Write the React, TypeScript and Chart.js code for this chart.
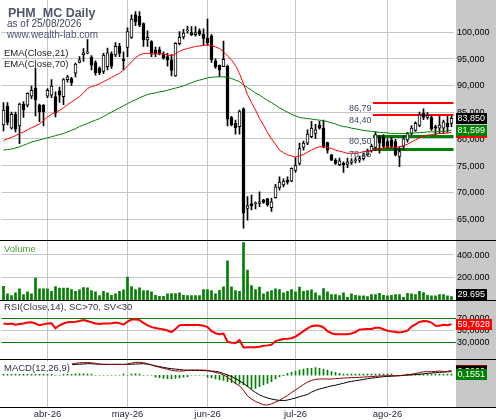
import React, { useEffect, useRef } from "react";
import { Chart, registerables } from "chart.js";

Chart.register(...registerables);

// ---------------- data ----------------
const OPEN = [
  82.6, 86.1, 82.0, 84.6, 82.4, 86.5, 86.3, 88.0, 89.5, 86.3,
  86.3, 88.0, 88.2, 87.9, 89.0, 87.9, 91.1, 91.3, 92.3, 94.3,
  95.7, 96.1, 95.3, 94.3, 93.2, 92.6, 93.5, 95.9, 95.7, 97.3,
  94.9, 97.1, 99.0, 103.2, 103.0, 101.6, 98.5, 98.2, 96.6, 96.7,
  95.9, 95.4, 94.8, 91.8, 97.8, 99.1, 100.2, 99.9, 99.5, 100.2,
  99.6, 98.8, 99.3, 94.6, 93.8, 93.5, 93.6, 84.0, 82.9, 82.3,
  85.6, 67.0, 67.9, 67.8, 67.9, 68.6, 68.8, 67.1, 69.0, 70.8,
  71.4, 72.3, 72.1, 74.1, 75.4, 78.4, 79.2, 80.4, 81.0, 82.6,
  82.0, 79.3, 77.0, 76.0, 75.1, 75.4, 75.2, 75.6, 75.9, 76.0,
  76.3, 77.0, 77.8, 78.4, 80.4, 80.4, 79.5, 79.8, 79.5, 76.7,
  78.6, 79.8, 81.0, 81.6, 82.5, 84.8, 84.0, 84.0, 82.3, 82.0,
  82.0, 82.9, 82.9,
];
const HIGH = [
  86.8, 86.8, 85.0, 85.0, 86.7, 87.0, 88.6, 89.9, 93.3, 86.5,
  86.4, 89.4, 91.1, 88.8, 89.7, 91.3, 91.9, 91.5, 94.2, 95.4,
  96.9, 98.6, 95.6, 94.6, 93.5, 96.0, 97.0, 96.3, 98.0, 97.9,
  96.3, 100.8, 103.2, 103.8, 103.8, 101.7, 100.2, 98.4, 97.2, 97.2,
  96.3, 96.0, 95.8, 98.0, 100.1, 100.5, 101.1, 101.0, 101.0, 100.6,
  100.6, 102.4, 99.5, 95.0, 93.8, 98.3, 93.8, 84.2, 83.5, 85.4,
  85.8, 69.2, 69.5, 68.2, 70.1, 68.7, 68.8, 68.9, 71.5, 72.9,
  72.5, 72.9, 74.6, 76.5, 79.2, 79.6, 81.7, 83.3, 82.7, 83.3,
  83.5, 79.4, 77.1, 76.3, 76.4, 75.7, 76.4, 76.3, 76.5, 76.8,
  77.3, 78.1, 79.0, 81.3, 80.6, 80.8, 80.0, 80.3, 79.9, 78.5,
  80.6, 81.2, 82.5, 83.2, 85.0, 85.6, 84.9, 84.3, 82.6, 84.2,
  83.5, 84.2, 84.2,
];
const LOW = [
  81.5, 82.6, 81.8, 81.3, 79.1, 84.0, 86.0, 87.5, 84.3, 83.2,
  82.4, 87.7, 87.7, 84.1, 86.8, 86.4, 90.6, 90.0, 91.6, 94.2,
  94.5, 95.9, 92.9, 91.9, 92.0, 92.2, 92.9, 93.2, 95.4, 95.4,
  92.9, 95.4, 98.8, 101.2, 101.0, 97.3, 97.3, 95.4, 95.4, 95.7,
  94.9, 93.6, 91.8, 91.7, 97.6, 98.7, 99.8, 99.3, 99.2, 99.3,
  97.6, 97.5, 94.3, 93.2, 91.7, 93.5, 82.4, 82.4, 80.9, 80.9,
  63.3, 64.8, 66.7, 66.9, 67.3, 67.9, 67.4, 66.4, 68.9, 70.4,
  71.0, 71.5, 72.0, 73.7, 75.1, 77.9, 78.9, 80.2, 80.1, 81.8,
  78.3, 77.3, 75.9, 75.2, 75.0, 73.7, 74.6, 75.2, 75.5, 75.6,
  76.0, 76.8, 77.5, 77.8, 77.3, 78.3, 78.2, 78.3, 76.8, 74.8,
  78.0, 79.4, 80.8, 81.4, 82.3, 83.6, 83.7, 81.6, 80.8, 81.0,
  81.0, 81.2, 82.3,
];
const CLOSE = [
  85.4, 83.1, 84.6, 81.8, 86.5, 85.4, 88.5, 89.1, 87.3, 85.1,
  85.1, 89.1, 89.9, 84.8, 88.2, 91.1, 91.6, 90.5, 94.0, 94.8,
  96.1, 96.3, 93.8, 92.4, 92.4, 95.7, 96.1, 93.6, 97.3, 96.0,
  94.6, 100.1, 102.4, 101.9, 101.3, 98.5, 99.0, 96.0, 96.0, 96.0,
  95.1, 94.8, 92.8, 97.9, 99.0, 99.8, 100.3, 99.5, 99.9, 99.6,
  98.8, 98.0, 94.8, 93.5, 92.9, 94.9, 83.7, 82.6, 82.1, 85.1,
  66.1, 67.5, 67.5, 67.9, 68.2, 68.1, 67.7, 68.2, 71.0, 71.9,
  72.1, 71.9, 74.5, 75.0, 78.2, 79.2, 80.9, 82.0, 81.7, 82.0,
  78.5, 77.9, 76.0, 75.4, 75.9, 75.1, 75.7, 75.9, 76.0, 76.3,
  77.0, 77.8, 78.6, 80.8, 79.2, 78.6, 78.6, 78.6, 77.0, 77.6,
  80.0, 81.0, 82.0, 82.9, 84.5, 84.0, 84.4, 81.8, 82.0, 82.6,
  83.2, 82.3, 83.85,
];
const EMA21 = [
  79.7, 80.0, 80.3, 80.6, 81.0, 81.3, 81.7, 82.1, 82.4, 82.8,
  83.4, 84.1, 84.6, 85.0, 85.3, 85.8, 86.4, 86.9, 87.4, 87.9,
  88.6, 89.4, 89.8, 90.0, 90.3, 90.7, 91.1, 91.5, 91.9, 92.3,
  92.9, 93.6, 94.4, 95.2, 95.7, 96.0, 96.0, 95.9, 95.9, 95.9,
  95.9, 95.7, 95.5, 95.9, 96.4, 96.7, 96.9, 97.1, 97.3, 97.4,
  97.5, 97.6, 97.5, 97.2, 96.9, 96.3, 95.5, 94.8, 93.7, 92.2,
  90.3, 88.3, 86.8, 85.4, 83.8, 82.6, 81.2, 80.0, 79.0, 77.9,
  77.4, 77.0, 76.8, 76.6, 76.8, 77.1, 77.5, 77.9, 78.3, 78.5,
  78.5, 78.4, 78.2, 77.9, 77.7, 77.5, 77.3, 77.3, 77.3, 77.4,
  77.6, 77.7, 77.8, 78.0, 78.1, 78.3, 78.4, 78.4, 78.4, 78.5,
  78.7, 79.0, 79.4, 79.8, 80.2, 80.5, 80.7, 80.8, 80.9, 81.0,
  81.0, 81.1, 81.2,
];
const EMA70 = [
  77.9, 78.0, 78.1, 78.3, 78.5, 78.8, 79.1, 79.4, 79.6, 79.8,
  80.0, 80.2, 80.4, 80.6, 80.8, 81.0, 81.3, 81.6, 81.9, 82.3,
  82.6, 82.9, 83.2, 83.5, 83.8, 84.2, 84.6, 85.0, 85.4, 85.8,
  86.2, 86.6, 87.0, 87.3, 87.7, 88.0, 88.3, 88.5, 88.6, 88.8,
  88.9, 89.1, 89.3, 89.5, 89.7, 89.9, 90.2, 90.5, 90.8, 91.0,
  91.2, 91.4, 91.5, 91.6, 91.6, 91.6, 91.5, 91.3, 91.0, 90.7,
  90.1, 89.6, 89.1, 88.6, 88.2, 87.7, 87.2, 86.8, 86.3, 85.8,
  85.4, 85.0, 84.6, 84.3, 84.0, 83.9, 83.8, 83.7, 83.6, 83.5,
  83.4, 83.2, 83.0, 82.8, 82.5, 82.3, 82.2, 82.0, 81.9, 81.7,
  81.6, 81.5, 81.4, 81.3, 81.2, 81.2, 81.1, 81.0, 81.0, 81.0,
  81.0, 81.0, 81.1, 81.1, 81.2, 81.2, 81.3, 81.3, 81.3, 81.4,
  81.4, 81.5, 81.599,
];
const VOLUME = [
  122000, 54000, 39000, 63000, 100000, 48000, 72000, 54000, 194000, 99000,
  100000, 100000, 78000, 120000, 105000, 105000, 105000, 93000, 78000, 90000,
  111000, 108000, 84000, 72000, 39000, 78000, 63000, 42000, 54000, 78000,
  90000, 203000, 120000, 93000, 108000, 84000, 84000, 72000, 42000, 33000,
  33000, 54000, 57000, 57000, 63000, 42000, 39000, 39000, 39000, 39000,
  93000, 93000, 84000, 54000, 87000, 117000, 347000, 117000, 84000, 78000,
  510000, 266000, 129000, 93000, 114000, 54000, 72000, 84000, 99000, 93000,
  63000, 78000, 93000, 72000, 114000, 78000, 84000, 90000, 63000, 39000,
  102000, 72000, 48000, 48000, 39000, 63000, 24000, 54000, 42000, 36000,
  36000, 30000, 48000, 48000, 60000, 42000, 36000, 42000, 48000, 48000,
  24000, 60000, 54000, 48000, 78000, 66000, 42000, 36000, 36000, 48000,
  48000, 36000, 29695,
];
const RSI = [
  61, 60, 61, 59, 60, 61, 62.5, 63, 61, 58,
  59.5, 61, 61.3, 53, 58, 61, 63, 63.5, 64, 65,
  66.5, 65, 63, 61, 60, 61, 61, 61.5, 62.5, 61.5,
  59, 64, 67.5, 68, 66.5, 62, 58, 55, 53.5, 52.5,
  51, 49.5, 47, 52, 58, 58.6, 58.6, 58.6, 58.6, 58.6,
  57.4, 55, 48.5, 45, 43.5, 44.3, 31, 29.5, 29, 33.9,
  21.5, 21.8, 21.8, 22, 22.8, 24.5, 25, 26, 32, 34,
  35.5, 36, 36.8, 39.5, 44, 48.5, 53, 56.5, 57.5, 57.2,
  54.5, 48.5, 45, 43.3, 43.3, 43.3, 43.3, 44.5, 47, 51,
  51.4, 52, 52, 54, 54.1, 51.5, 49.2, 48, 47, 46,
  47.5, 49.2, 56, 59.7, 63.5, 65.1, 64.5, 62.5, 57.4, 57.4,
  59, 58, 59.7628,
];
const MACD = [
  1.1, 1.1, 1.1, 1.05, 1.1, 1.15, 1.2, 1.3, 1.35, 1.3,
  1.3, 1.35, 1.4, 1.3, 1.3, 1.4, 1.48, 1.6, 1.72, 1.8,
  1.82, 1.84, 1.8, 1.72, 1.6, 1.57, 1.57, 1.55, 1.57, 1.57,
  1.55, 1.62, 1.75, 1.87, 1.87, 1.8, 1.68, 1.48, 1.3, 1.15,
  1.0, 0.85, 0.72, 0.62, 0.6, 0.62, 0.7, 0.75, 0.75, 0.75,
  0.75, 0.68, 0.55, 0.4, 0.25, 0.05, -0.3, -0.75, -1.2, -1.55,
  -2.2, -3.0, -3.45, -3.8, -4.05, -4.3, -4.32, -4.15, -3.9, -3.65,
  -3.3, -2.95, -2.5, -2.15, -1.75, -1.35, -1.0, -0.75, -0.6, -0.55,
  -0.55, -0.55, -0.55, -0.5, -0.46, -0.42, -0.38, -0.35, -0.33, -0.31,
  -0.27, -0.23, -0.2, -0.16, -0.12, -0.1, -0.08, -0.07, -0.07, -0.07,
  0.0, 0.06, 0.12, 0.25, 0.37, 0.5, 0.51, 0.51, 0.56, 0.61,
  0.53, 0.56, 0.68,
];
const SIGNAL = [
  1.0, 1.02, 1.04, 1.05, 1.06, 1.08, 1.1, 1.14, 1.18, 1.2,
  1.23, 1.26, 1.3, 1.3, 1.32, 1.36, 1.45, 1.52, 1.57, 1.6,
  1.63, 1.67, 1.66, 1.62, 1.6, 1.57, 1.57, 1.57, 1.57, 1.57,
  1.57, 1.57, 1.6, 1.62, 1.65, 1.67, 1.6, 1.5, 1.35, 1.24,
  1.14, 1.02, 0.95, 0.88, 0.82, 0.76, 0.73, 0.71, 0.7, 0.68,
  0.66, 0.65, 0.61, 0.55, 0.45, 0.25, 0.05, -0.2, -0.5, -0.82,
  -1.2, -1.6, -2.1, -2.5, -2.85, -3.1, -3.3, -3.45, -3.57, -3.65,
  -3.69, -3.6, -3.45, -3.3, -3.12, -2.95, -2.8, -2.45, -2.2, -2.0,
  -1.85, -1.7, -1.55, -1.45, -1.3, -1.17, -1.0, -0.9, -0.8, -0.7,
  -0.62, -0.5, -0.42, -0.35, -0.27, -0.22, -0.18, -0.15, -0.1, -0.07,
  -0.02, 0.02, 0.05, 0.1, 0.13, 0.2, 0.26, 0.32, 0.38, 0.42,
  0.45, 0.5, 0.52,
];
const HIST = [
  0.15, 0.17, 0.17, 0.15, 0.17, 0.17, 0.18, 0.2, 0.2, 0.17,
  0.15, 0.17, 0.17, 0, 0, 0.15, 0.17, 0.18, 0.2, 0.2,
  0.2, 0.18, 0.17, 0, 0, 0, 0, 0, 0, 0,
  0.15, 0, 0.17, 0.2, 0.18, 0, 0, 0, -0.3, -0.35,
  -0.45, -0.5, -0.5, -0.45, -0.4, -0.3, -0.2, 0, 0, 0,
  0, -0.3, -0.4, -0.55, -0.65, -0.75, -0.95, -1.1, -1.2, -1.3,
  -1.42, -1.66, -2.0, -1.9, -1.66, -1.42, -1.18, -0.94, -0.55, -0.22,
  -0.07, 0.27, 0.42, 0.61, 0.75, 0.9, 1.0, 1.0, 1.1, 1.0,
  0.9, 0.75, 0.51, 0.42, 0.27, 0.15, 0.15, 0.15, 0.15, 0.15,
  0.15, 0.15, 0.15, 0.17, 0.15, 0.15, 0.15, 0.15, 0, 0,
  0, 0.15, 0.15, 0.15, 0.17, 0.17, 0.16, 0.15, 0.15, 0.15,
  0.16, 0.17, 0.1551,
];

const CATEGORIES = CLOSE.map((_, i) => String(i));
const MONTH_LABELS = ["abr-26", "may-26", "jun-26", "jul-26", "ago-26"];
const MONTH_START = [11, 31, 51, 73, 96];
const PRICE_TICKS = [65, 70, 75, 80, 85, 90, 95, 100];
const VOLUME_TICKS = [200000, 400000];
const RSI_TICKS = [30, 50, 70];
const RSI_BANDS = [70, 30];
const RESISTANCE = [86.79, 84.4];
const SUPPORT = [80.5, 78.15];
const LEVEL_FROM = 92;

// ---------------- styling / layout ----------------
const W = 496;
const AXIS_W = 42.5;
const GRAY_X = 456;
const FONT = '"Liberation Sans", Arial, sans-serif';
const GRID = "#c6c6c6";
const GREEN = "#008000";
const RED = "#ff0000";

const fmtDec = (v: number, d: number) => v.toFixed(d).replace(".", ",");
const fmtThousands = (v: number) =>
  String(Math.round(v)).replace(/\B(?=(\d{3})+(?!\d))/g, ".");

function drawBackground(chart: any) {
  const { ctx, chartArea } = chart;
  ctx.save();
  ctx.fillStyle = "#ffffff";
  ctx.fillRect(0, 0, chart.width, chart.height);
  ctx.fillStyle = "#c8c8c8";
  ctx.fillRect(GRAY_X, 0, chart.width - GRAY_X, chartArea.bottom);
  ctx.restore();
}

function tickLabels(ctx: any, scale: any, ticks: number[], fmt: (v: number) => string) {
  ctx.font = `9px ${FONT}`;
  ctx.fillStyle = "#000";
  ctx.textAlign = "left";
  ctx.textBaseline = "middle";
  ticks.forEach((v) => ctx.fillText(fmt(v), GRAY_X + 1, scale.getPixelForValue(v) + 0.5));
}

function valueBox(ctx: any, text: string, y: number, bg: string, area?: any) {
  ctx.font = `9px ${FONT}`;
  const w = Math.ceil(ctx.measureText(text).width) + 3;
  let top = Math.round(y - 5.5);
  if (area) top = Math.max(area.top, Math.min(top, area.bottom - 11));
  ctx.fillStyle = bg;
  ctx.fillRect(GRAY_X, top, w, 11);
  ctx.fillStyle = "#fff";
  ctx.textAlign = "left";
  ctx.textBaseline = "middle";
  ctx.fillText(text, GRAY_X + 1.5, top + 6);
}

function text(ctx: any, s: string, x: number, y: number, size: number, color: string, bold = false, align = "left", baseline = "alphabetic") {
  ctx.font = `${bold ? "bold " : ""}${size}px ${FONT}`;
  ctx.fillStyle = color;
  ctx.textAlign = align;
  ctx.textBaseline = baseline;
  ctx.fillText(s, x, y);
}

function baseOptions(y: any, padBottom = 0) {
  return {
    responsive: false,
    animation: false,
    events: [],
    layout: { padding: { left: 1.5, right: 0, top: 0, bottom: padBottom } },
    plugins: { legend: { display: false }, tooltip: { enabled: false } },
    scales: {
      x: {
        type: "category",
        offset: true,
        grid: {
          display: true,
          offset: false,
          drawTicks: false,
          color: (c: any) => (MONTH_START.includes(c.index) ? GRID : "rgba(0,0,0,0)"),
        },
        border: { display: false },
        ticks: { display: false, autoSkip: false },
      },
      y: {
        position: "right",
        grid: { drawTicks: false, color: GRID },
        border: { display: false },
        ticks: { display: false },
        afterFit: (s: any) => {
          s.width = AXIS_W;
        },
        ...y,
      },
    },
  };
}

function priceConfig(): any {
  const last = CLOSE.length - 1;
  return {
    type: "bar",
    data: {
      labels: CATEGORIES,
      datasets: [
        { type: "line", data: EMA21, borderColor: RED, borderWidth: 1, pointRadius: 0, order: 0 },
        { type: "line", data: EMA70, borderColor: GREEN, borderWidth: 1, pointRadius: 0, order: 0 },
        {
          type: "bar",
          data: OPEN.map((o, i) => [o, CLOSE[i]]),
          backgroundColor: OPEN.map((o, i) => (CLOSE[i] >= o ? "#ffffff" : "#000000")),
          borderColor: "#000",
          borderWidth: 1,
          borderSkipped: false,
          barThickness: 3,
          minBarLength: 1,
          grouped: false,
          order: 1,
        },
        {
          type: "bar",
          data: LOW.map((l, i) => [l, HIGH[i]]),
          backgroundColor: "#000",
          borderWidth: 0,
          barThickness: 1,
          grouped: false,
          order: 2,
        },
      ],
    },
    options: baseOptions({
      min: 61.07,
      max: 105.99,
      afterBuildTicks: (s: any) => {
        s.ticks = PRICE_TICKS.map((v) => ({ value: v }));
      },
    }),
    plugins: [
      {
        id: "priceDeco",
        beforeDraw: drawBackground,
        beforeDatasetsDraw(chart: any) {
          const { ctx, chartArea } = chart;
          const xs = chart.scales.x;
          const ys = chart.scales.y;
          const x0 = xs.getPixelForValue(LEVEL_FROM) + 1.5;
          ctx.save();
          ctx.fillStyle = RED;
          RESISTANCE.forEach((v) => {
            const py = Math.round(ys.getPixelForValue(v));
            ctx.fillRect(x0, py - 1, chartArea.right - x0, 2);
          });
          ctx.fillStyle = GREEN;
          SUPPORT.forEach((v) => {
            const py = Math.round(ys.getPixelForValue(v));
            ctx.fillRect(x0, py - 1, chartArea.right - x0, 3);
          });
          ctx.restore();
        },
        afterDraw(chart: any) {
          const { ctx } = chart;
          const xs = chart.scales.x;
          const ys = chart.scales.y;
          ctx.save();
          tickLabels(ctx, ys, PRICE_TICKS, (v) => fmtDec(v, 3));
          valueBox(ctx, fmtDec(EMA21[last], 3), ys.getPixelForValue(EMA21[last]), RED);
          valueBox(ctx, fmtDec(EMA70[last], 3), ys.getPixelForValue(EMA70[last]), GREEN);
          valueBox(ctx, fmtDec(CLOSE[last], 3), ys.getPixelForValue(CLOSE[last]), "#000");
          const x0 = xs.getPixelForValue(LEVEL_FROM);
          [...RESISTANCE, ...SUPPORT].forEach((v) => {
            text(ctx, fmtDec(v, 2), x0, Math.round(ys.getPixelForValue(v)) + 6, 9, "#3b4868", false, "right", "middle");
          });
          text(ctx, "PHM_MC Daily", 8, 16.5, 12.5, "#50566a", true);
          text(ctx, "as of 25/08/2026", 7, 27, 10, "#42475f");
          text(ctx, "www.wealth-lab.com", 7, 37.5, 10, "#4a5572");
          text(ctx, "EMA(Close,21)", 4, 56, 9.5, "#222");
          text(ctx, "EMA(Close,70)", 4, 66.5, 9.5, "#222");
          ctx.restore();
        },
      },
    ],
  };
}

function volumeConfig(): any {
  const last = VOLUME.length - 1;
  return {
    type: "bar",
    data: {
      labels: CATEGORIES,
      datasets: [
        { data: VOLUME, backgroundColor: GREEN, borderWidth: 0, barThickness: 2 },
      ],
    },
    options: baseOptions({
      min: 0,
      max: 533000,
      afterBuildTicks: (s: any) => {
        s.ticks = VOLUME_TICKS.map((v) => ({ value: v }));
      },
    }),
    plugins: [
      {
        id: "volDeco",
        beforeDraw: drawBackground,
        afterDraw(chart: any) {
          const { ctx, chartArea } = chart;
          const ys = chart.scales.y;
          ctx.save();
          tickLabels(ctx, ys, VOLUME_TICKS, fmtThousands);
          valueBox(ctx, fmtThousands(VOLUME[last]), ys.getPixelForValue(VOLUME[last]), "#000", chartArea);
          text(ctx, "Volume", 4, 9.5, 9.5, "#4b9b2b", false, "left", "middle");
          ctx.restore();
        },
      },
    ],
  };
}

function rsiConfig(): any {
  const last = RSI.length - 1;
  return {
    type: "line",
    data: {
      labels: CATEGORIES,
      datasets: [{ data: RSI, borderColor: RED, borderWidth: 2, pointRadius: 0 }],
    },
    options: baseOptions({
      min: 2.6,
      max: 99.6,
      afterBuildTicks: (s: any) => {
        s.ticks = RSI_TICKS.map((v) => ({ value: v }));
      },
    }),
    plugins: [
      {
        id: "rsiDeco",
        beforeDraw: drawBackground,
        beforeDatasetsDraw(chart: any) {
          const { ctx, chartArea } = chart;
          const ys = chart.scales.y;
          ctx.save();
          ctx.fillStyle = GREEN;
          RSI_BANDS.forEach((v) => {
            const py = Math.round(ys.getPixelForValue(v));
            ctx.fillRect(chartArea.left, py, GRAY_X - chartArea.left, 1);
          });
          ctx.restore();
        },
        afterDraw(chart: any) {
          const { ctx } = chart;
          const ys = chart.scales.y;
          ctx.save();
          tickLabels(ctx, ys, RSI_TICKS, (v) => fmtDec(v, 4));
          valueBox(ctx, fmtDec(RSI[last], 4), ys.getPixelForValue(RSI[last]), RED);
          text(ctx, "RSI(Close,14), SC>70, SV<30", 4, 7.5, 9.5, "#2f3347", false, "left", "middle");
          ctx.restore();
        },
      },
    ],
  };
}

function macdConfig(): any {
  const last = MACD.length - 1;
  const opts: any = baseOptions({ min: -4.61, max: 2.35, grid: { display: false } }, 13);
  return {
    type: "bar",
    data: {
      labels: CATEGORIES,
      datasets: [
        { type: "line", data: MACD, borderColor: "#8b0000", borderWidth: 1, pointRadius: 0, order: 0 },
        { type: "line", data: SIGNAL, borderColor: "#000", borderWidth: 1, pointRadius: 0, order: 1 },
        { type: "bar", data: HIST, backgroundColor: GREEN, borderWidth: 0, barThickness: 1, order: 2 },
      ],
    },
    options: opts,
    plugins: [
      {
        id: "macdDeco",
        beforeDraw: drawBackground,
        afterDraw(chart: any) {
          const { ctx, chartArea } = chart;
          const xs = chart.scales.x;
          const ys = chart.scales.y;
          ctx.save();
          valueBox(ctx, fmtDec(MACD[last], 4), ys.getPixelForValue(MACD[last]), "#8b0000");
          valueBox(ctx, fmtDec(SIGNAL[last], 4), ys.getPixelForValue(SIGNAL[last]), "#000");
          valueBox(ctx, fmtDec(HIST[last], 4), ys.getPixelForValue(HIST[last]), GREEN);
          const label = "MACD(12,26,9)";
          ctx.font = `9.5px ${FONT}`;
          const lw = ctx.measureText(label).width;
          ctx.fillStyle = "#fff";
          ctx.fillRect(2, 3, lw + 4, 12);
          text(ctx, label, 4, 9, 9.5, "#2f3347", false, "left", "middle");
          MONTH_START.forEach((idx, k) => {
            text(ctx, MONTH_LABELS[k], xs.getPixelForValue(idx), chartArea.bottom + 7, 9.5, "#262a3a", false, "center", "middle");
          });
          ctx.restore();
        },
      },
    ],
  };
}

export default function App() {
  const priceRef = useRef<HTMLCanvasElement>(null);
  const volRef = useRef<HTMLCanvasElement>(null);
  const rsiRef = useRef<HTMLCanvasElement>(null);
  const macdRef = useRef<HTMLCanvasElement>(null);

  useEffect(() => {
    const charts: Chart[] = [];
    if (priceRef.current) charts.push(new Chart(priceRef.current, priceConfig()));
    if (volRef.current) charts.push(new Chart(volRef.current, volumeConfig()));
    if (rsiRef.current) charts.push(new Chart(rsiRef.current, rsiConfig()));
    if (macdRef.current) charts.push(new Chart(macdRef.current, macdConfig()));
    return () => charts.forEach((c) => c.destroy());
  }, []);

  const cv = (top: number) => ({ position: "absolute" as const, left: 0, top, display: "block" });

  return (
    <div style={{ position: "fixed", left: 0, top: 0, width: W, height: 420, background: "#fff", overflow: "hidden" }}>
      <canvas ref={priceRef} width={W} height={240} style={cv(0)} />
      <canvas ref={volRef} width={W} height={60} style={cv(240)} />
      <canvas ref={rsiRef} width={W} height={59} style={cv(300)} />
      <canvas ref={macdRef} width={W} height={61} style={cv(359)} />
      {[240, 300, 359, 407].map((y) => (
        <div key={y} style={{ position: "absolute", left: 0, top: y, width: W, height: 1, background: "#000" }} />
      ))}
    </div>
  );
}
